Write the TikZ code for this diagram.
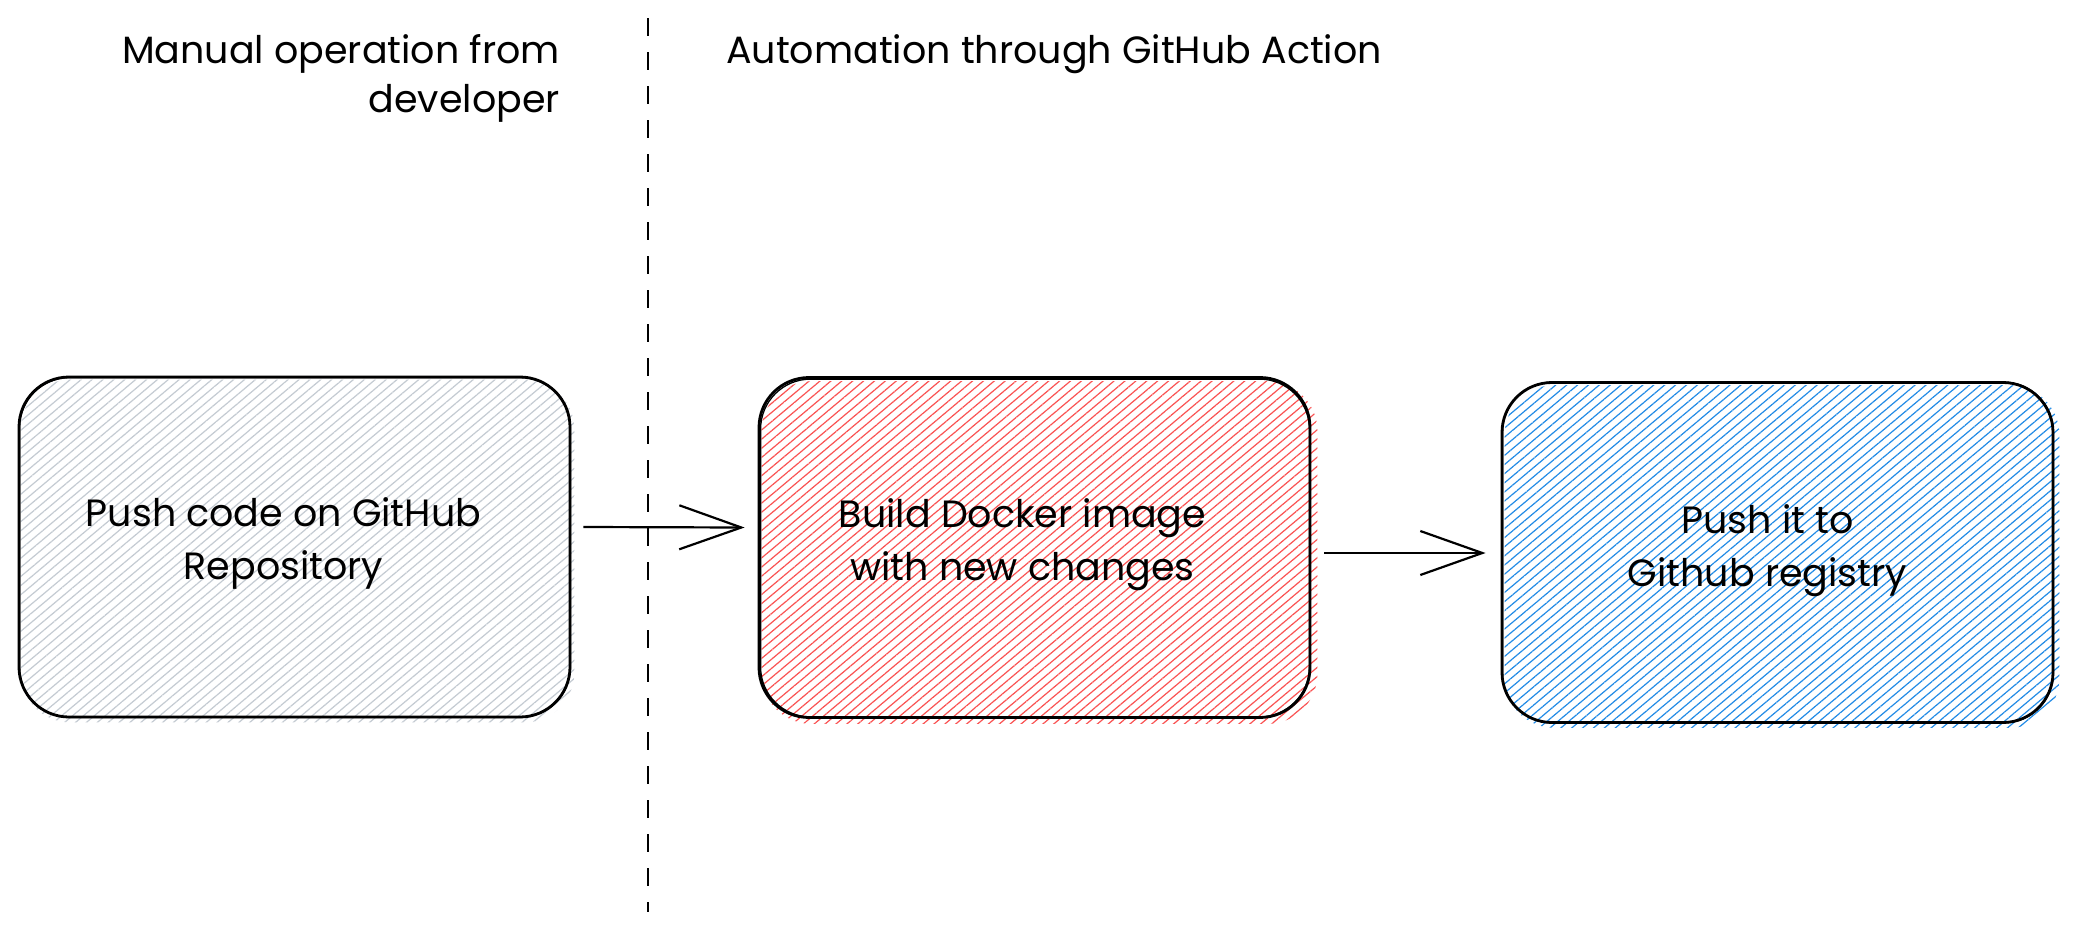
\documentclass[tikz,border=0pt]{standalone}
\usepackage{fontspec}
\setmainfont{Poppins}
\usetikzlibrary{arrows.meta,patterns.meta,backgrounds,calc}
\definecolor{hgrey}{HTML}{C4CBD2}
\definecolor{hred}{HTML}{FA5252}
\definecolor{hblue}{HTML}{228BE6}
\begin{document}
\begin{tikzpicture}[x=1pt,y=-1pt,
  box/.style={draw=black, line width=2.8pt, rounded corners=50pt, minimum width=551pt, minimum height=340pt, inner sep=0pt},
  sketch/.style={draw=black, line width=1.3pt, rounded corners=50pt},
  lbl/.style={font=\fontsize{38}{53}\selectfont, align=center, inner sep=0pt},
  ttl/.style={font=\fontsize{38}{49}\selectfont, inner sep=0pt},
  conn/.style={line width=2.2pt, -{Straight Barb[length=62pt,width=44pt,line width=2.2pt]}},
  sep/.style={line width=2.5pt, dash pattern=on 18pt off 16pt},
  hatch/.style={rounded corners=50pt, pattern={Lines[angle=40, distance=7pt, line width=1.2pt]}, pattern color=#1},
]
\begin{scope}[on background layer]
\fill[white] (0,0) rectangle (2073,932);
\end{scope}
\useasboundingbox (0,0) rectangle (2073,932);

% boxes
\node[box] (b1) at (294.5,547) {};
\node[box] (b2) at (1034.5,547.5) {};
\node[box] (b3) at (1777.5,552.5) {};

\begin{scope}[on background layer]
\fill[hatch=hgrey] ([shift={(3,4)}]b1.south west) rectangle ([shift={(3,4)}]b1.north east);
\fill[hatch=hred] ([shift={(4,5)}]b2.south west) rectangle ([shift={(6,5)}]b2.north east);
\fill[hatch=hblue] ([shift={(4,4)}]b3.south west) rectangle ([shift={(5,4)}]b3.north east);
\end{scope}

\draw[sketch] ([shift={(2,-1)}]b1.south west) rectangle ([shift={(-1,2)}]b1.north east);
\draw[sketch] ([shift={(3,-2)}]b2.south west) rectangle ([shift={(-2,3)}]b2.north east);
\draw[sketch] ([shift={(2,-1)}]b3.south west) rectangle ([shift={(-1,1)}]b3.north east);

% labels
\node[lbl] (t1) at ($(b1.center)+(-11,-4)$) {Push code on GitHub\\Repository};
\node[lbl] (t2) at ($(b2.center)+(-12,-3)$) {Build Docker image\\with new changes};
\node[lbl] (t3) at ($(b3.center)+(-10,-2)$) {Push it to\\Github registry};

% titles
\node[ttl, align=right, anchor=base east] (tl) at (560,112) {Manual operation from\\developer};
\node[ttl, anchor=base west] (tr) at (726,63) {Automation through GitHub Action};

% separator
\coordinate (d1) at (648,18);
\coordinate (d2) at (648,912);
\draw[sep] (d1) -- (d2);

% connectors
\draw[conn] ($(b1.east)+(12,-20)$) -- ($(b2.west)+(-13,-20)$);
\draw[conn] ($(b2.east)+(13,5.5)$) -- ($(b3.west)+(-15,0.5)$);
\end{tikzpicture}
\end{document}
